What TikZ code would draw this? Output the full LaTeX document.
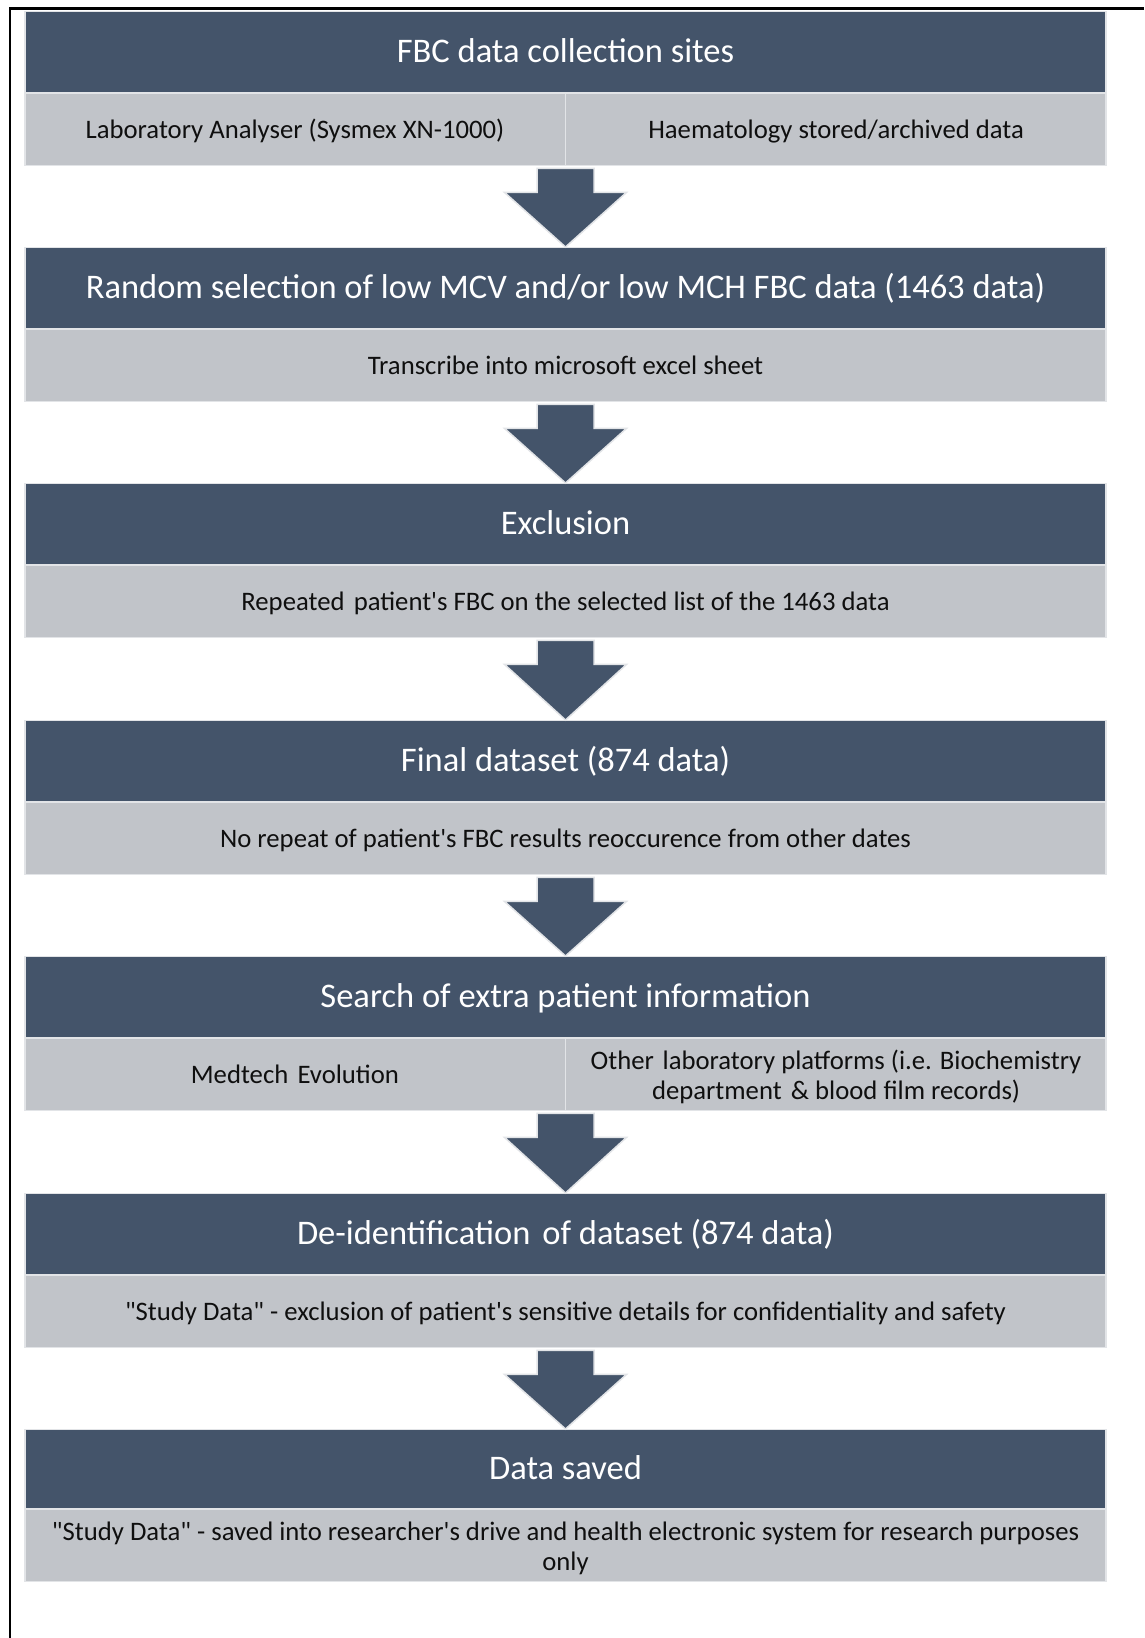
\documentclass[tikz,border=0pt]{standalone}
\usepackage{fontspec}
\setmainfont{Carlito}[Ligatures=TeXOff]
\usetikzlibrary{calc}
\definecolor{hdr}{HTML}{44546A}
\definecolor{sub}{RGB}{193,196,201}
\definecolor{edge}{RGB}{226,228,231}
\definecolor{ink}{RGB}{15,15,15}
\tikzset{
  hdrbox/.style={draw=edge, line width=1.2pt, fill=hdr, minimum width=1081pt, minimum height=81pt,
    inner sep=0pt, text=white, font=\fontsize{34.5}{40}\selectfont, text height=28pt, text depth=7pt, anchor=north},
  subbox/.style={draw=edge, line width=1.2pt, fill=sub, minimum width=1081pt, minimum height=72pt,
    inner sep=0pt, text=ink, font=\fontsize{26.7}{29.5}\selectfont, align=center, anchor=north},
  oneline/.style={text height=23pt, text depth=6pt},
  coltext/.style={font=\fontsize{26.7}{29.5}\selectfont, align=center, text=ink, inner sep=0pt},
  divider/.style={draw=edge, line width=1.5pt},
  flow/.style={fill=hdr, draw=edge, line width=1.5pt, line join=miter},
  frameline/.style={line width=2.5pt, draw=black},
}
\newcommand\flowarrow[2]{%
  \draw[flow] ($(#1.south)+(-28.5,2)$) -- ($(#1.south)+(28.5,2)$) -- ($(#1.south)+(28.5,26)$)
    -- ($(#1.south)+(61,26)$) -- (#2.north) -- ($(#1.south)+(-61,26)$)
    -- ($(#1.south)+(-28.5,26)$) -- cycle;}
\begin{document}
\begin{tikzpicture}[x=1pt,y=-1pt]
\useasboundingbox (0,0) rectangle (1144,1638);
\fill[white] (0,0) rectangle (1144,1638);
\draw[frameline] (10,1638) -- (10,8.5) -- (1144,8.5);

% Block 1
\node[hdrbox] (h1) at (565.5,11) {FBC data collection sites};
\node[subbox] (g1) at (h1.south) {};
\draw[divider] (g1.north) -- (g1.south);
\node[coltext, oneline] (g1a) at ($(g1.center)!0.5!(g1.west)$) {Laboratory Analyser (Sysmex XN-1000)};
\node[coltext, oneline] (g1b) at ($(g1.center)!0.5!(g1.east)$) {Haematology stored/archived data};

% Block 2
\node[hdrbox] (h2) at (565.5,247) {Random selection of low MCV and/or low MCH FBC data (1463 data)};
\node[subbox, oneline] (g2) at (h2.south) {Transcribe into microsoft excel sheet};

% Block 3
\node[hdrbox] (h3) at (565.5,483) {Exclusion};
\node[subbox, oneline] (g3) at (h3.south) {Repeated\hspace{0.12em} patient's FBC on the selected list of the 1463 data};

% Block 4
\node[hdrbox] (h4) at (565.5,720) {Final dataset (874 data)};
\node[subbox, oneline] (g4) at (h4.south) {No repeat of patient's FBC results reoccurence from other dates};

% Block 5
\node[hdrbox] (h5) at (565.5,956) {Search of extra patient information};
\node[subbox] (g5) at (h5.south) {};
\draw[divider] (g5.north) -- (g5.south);
\node[coltext, oneline] (g5a) at ($(g5.center)!0.5!(g5.west)$) {Medtech\hspace{0.12em} Evolution};
\node[coltext, yshift=-2pt] (g5b) at ($(g5.center)!0.5!(g5.east)$) {Other\hspace{0.1em} laboratory platforms (i.e. Biochemistry\\department\hspace{0.12em} \& blood film records)};

% Block 6
\node[hdrbox] (h6) at (565.5,1193) {De-identification\hspace{0.12em} of dataset (874 data)};
\node[subbox, oneline] (g6) at (h6.south) {"Study Data" - exclusion of patient's sensitive details for confidentiality and safety};

% Block 7
\node[hdrbox, minimum height=79pt] (h7) at (565.5,1429) {Data saved};
\node[subbox] (g7) at (h7.south) {};
\node[coltext, yshift=-2.5pt] (g7t) at (g7.center) {"Study Data" - saved into researcher's drive and health electronic system for research purposes\\only};

% Arrows
\flowarrow{g1}{h2}
\flowarrow{g2}{h3}
\flowarrow{g3}{h4}
\flowarrow{g4}{h5}
\flowarrow{g5}{h6}
\flowarrow{g6}{h7}
\end{tikzpicture}
\end{document}
